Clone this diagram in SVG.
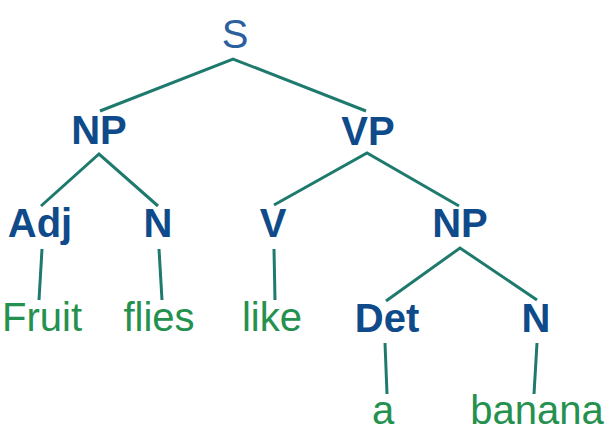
<svg xmlns="http://www.w3.org/2000/svg" width="609" height="435" viewBox="0 0 609 435">
<style>
.cat{font-family:"Liberation Sans",Arial,sans-serif;font-size:40px;font-weight:bold;fill:#0f4a8a;text-anchor:middle}
.root{font-family:"Liberation Sans",Arial,sans-serif;font-size:40px;fill:#2c5f9e;text-anchor:middle}
.word{font-family:"Liberation Sans",Arial,sans-serif;font-size:40px;fill:#24914f;text-anchor:middle}
.edge{stroke:#1f7a6e;stroke-width:3;fill:none;stroke-linecap:butt;stroke-linejoin:miter}
</style>
<rect width="609" height="435" fill="#ffffff"/>
<g id="connectors">
<polyline class="edge" points="100,111 233,59 366,111"/>
<polyline class="edge" points="41,206 99,154 158,206"/>
<polyline class="edge" points="274,205 367,153 459,206"/>
<polyline class="edge" points="386,301 460,248 537,300"/>
<line class="edge" x1="42" y1="249" x2="39" y2="300"/>
<line class="edge" x1="159" y1="249" x2="162" y2="300"/>
<line class="edge" x1="274" y1="249" x2="275" y2="300"/>
<line class="edge" x1="385" y1="343" x2="387" y2="394"/>
<line class="edge" x1="537" y1="343" x2="534" y2="394"/>
</g>
<g id="S"><text class="root" x="235" y="48">S</text></g>
<g id="NP1"><text class="cat" x="99" y="144">NP</text></g>
<g id="VP"><text class="cat" x="368" y="145">VP</text></g>
<g id="Adj"><text class="cat" x="40" y="237">Adj</text></g>
<g id="N1"><text class="cat" x="158" y="237">N</text></g>
<g id="V"><text class="cat" x="273" y="237">V</text></g>
<g id="NP2"><text class="cat" x="460" y="237">NP</text></g>
<g id="Fruit"><text class="word" x="42" y="331">Fruit</text></g>
<g id="flies"><text class="word" x="159" y="331">flies</text></g>
<g id="like"><text class="word" x="272" y="331">like</text></g>
<g id="Det"><text class="cat" x="387" y="332">Det</text></g>
<g id="N2"><text class="cat" x="536" y="332">N</text></g>
<g id="a"><text class="word" x="383" y="424">a</text></g>
<g id="banana"><text class="word" x="537" y="424">banana</text></g>
</svg>
